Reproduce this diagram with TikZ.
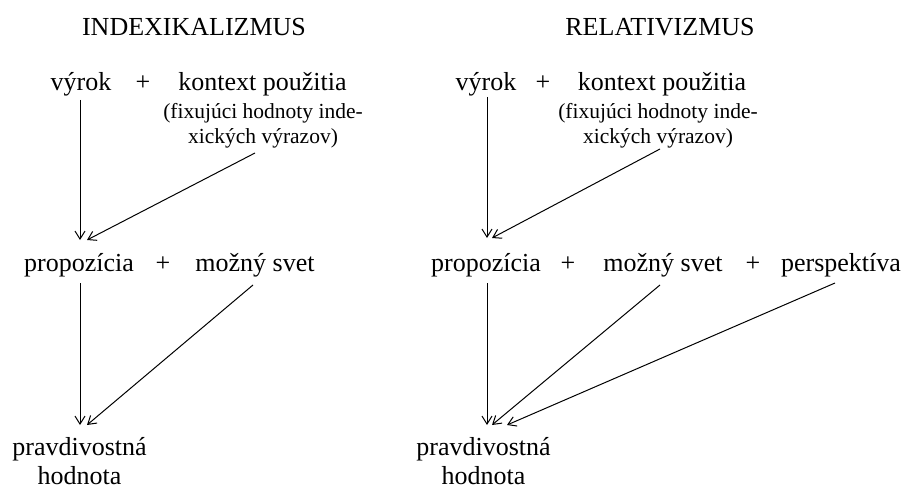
\documentclass[tikz,border=0pt]{standalone}
\usepackage{fontspec}
\setmainfont{Liberation Serif}
\usetikzlibrary{arrows.meta,calc}
\begin{document}
\begin{tikzpicture}[x=1pt,y=-1pt,
  txt/.style={anchor=base,inner sep=0pt,font=\fontsize{26}{30}\selectfont},
  small/.style={anchor=north,inner sep=0pt,align=center,font=\fontsize{21.5}{24.5}\selectfont},
  two/.style={anchor=north,inner sep=0pt,align=center,font=\fontsize{26}{29.5}\selectfont},
  arr/.style={line width=1pt,-{Straight Barb[length=8pt,width=10pt]}}]
\useasboundingbox (0,0) rectangle (904,489);
% left panel
\node[txt] (titleL) at (194,35.5) {INDEXIKALIZMUS};
\node[txt] (vyrokL) at (81,91) {výrok};
\node[txt] (plusL1) at (143,91) {+};
\node[txt] (ctxL) at (262.5,91) {kontext použitia};
\node[small] (fixL) at (263,103.5) {(fixujúci hodnoty inde-\\xických výrazov)};
\node[txt] (propL) at (79,271) {propozícia};
\node[txt] (plusL2) at (163,271) {+};
\node[txt] (svetL) at (255,271) {možný svet};
\node[two] (pravL) at (79.5,437) {pravdivostná\\hodnota};
% right panel
\node[txt] (titleR) at (660,35.5) {RELATIVIZMUS};
\node[txt] (vyrokR) at (486,91) {výrok};
\node[txt] (plusR1) at (543,91) {+};
\node[txt] (ctxR) at (662,91) {kontext použitia};
\node[small] (fixR) at (658,103.5) {(fixujúci hodnoty inde-\\xických výrazov)};
\node[txt] (propR) at (486,271) {propozícia};
\node[txt] (plusR2) at (568,271) {+};
\node[txt] (svetR) at (663,271) {možný svet};
\node[txt] (plusR3) at (753,271) {+};
\node[txt] (perspR) at (841,271) {perspektíva};
\node[two] (pravR) at (483.5,437) {pravdivostná\\hodnota};
% arrows left
\draw[arr] ($(vyrokL.base)+(-1,9)$) -- ($(propL.base)+(1,-31)$);
\draw[arr] ($(ctxL.base)+(-7.5,62)$) -- ($(propL.base)+(8,-31)$);
\draw[arr] ($(propL.base)+(1,12)$) -- ($(pravL.north)+(0.5,-12)$);
\draw[arr] ($(svetL.base)+(-2,14)$) -- ($(pravL.north)+(7.5,-12)$);
% arrows right
\draw[arr] ($(vyrokR.base)+(1,6)$) -- ($(propR.base)+(1,-33)$);
\draw[arr] ($(ctxR.base)+(-2,58)$) -- ($(propR.base)+(6,-33)$);
\draw[arr] ($(propR.base)+(1,12)$) -- ($(pravR.north)+(3.5,-12)$);
\draw[arr] ($(svetR.base)+(-3,14)$) -- ($(pravR.north)+(8.5,-12)$);
\draw[arr] ($(perspR.base)+(-6,12)$) -- ($(pravR.north)+(23.5,-12)$);
\end{tikzpicture}
\end{document}
